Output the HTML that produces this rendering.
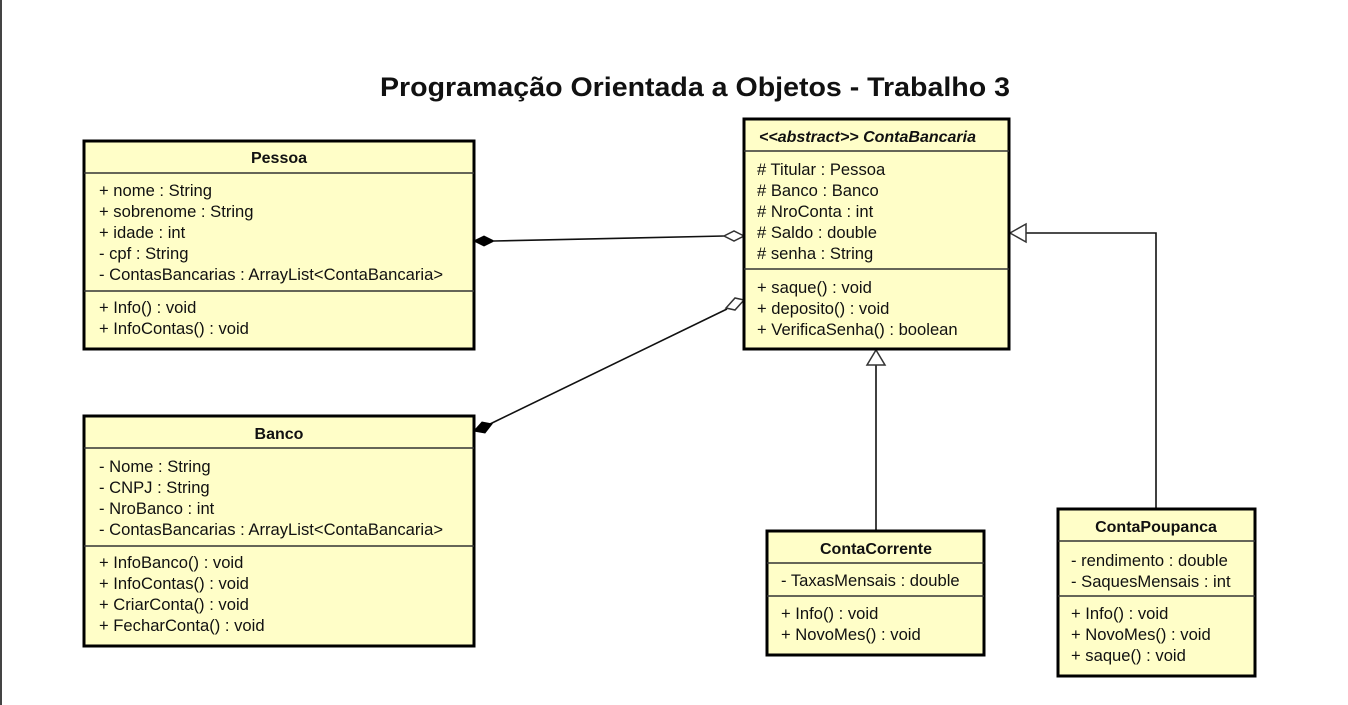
<!DOCTYPE html>
<html><head><meta charset="utf-8"><style>
html,body{margin:0;padding:0;background:#fff;width:1348px;height:705px;overflow:hidden}
svg{display:block}
text{font-family:"Liberation Sans",Arial,sans-serif;font-size:16.6px;fill:#111}
.b{font-weight:bold;font-size:16px}
.t{font-weight:bold;font-size:27px}
.box{fill:#fffec8;stroke:#000;stroke-width:3}
.sep{stroke:#333;stroke-width:1.5}
.ln{stroke:#111;stroke-width:1.6;fill:none}
</style></head><body>
<svg width="1348" height="705" viewBox="0 0 1348 705">
<line x1="1" y1="0" x2="1" y2="705" stroke="#444" stroke-width="2"/>
<text class="t" x="380" y="96" textLength="630" lengthAdjust="spacingAndGlyphs">Programação Orientada a Objetos - Trabalho 3</text>

<!-- connectors -->
<line class="ln" x1="494" y1="241" x2="724" y2="236"/>
<polygon points="474,241 484,236 494,241 484,246" fill="#000" stroke="#000"/>
<polygon points="744,236 734,231 724,236 734,241" fill="#fff" stroke="#333" stroke-width="1.5"/>
<line class="ln" x1="490" y1="424" x2="727" y2="309"/>
<polygon points="474,431 482,422 492,424 485,433" fill="#000" stroke="#000"/>
<polygon points="744,300 735,298 726,308 735,310" fill="#fff" stroke="#333" stroke-width="1.5"/>
<line class="ln" x1="876" y1="530" x2="876" y2="365"/>
<polygon points="876,350 867,365 885,365" fill="#fff" stroke="#333" stroke-width="1.5"/>
<polyline class="ln" points="1156,508 1156,233 1026,233"/>
<polygon points="1010,233 1026,224 1026,242" fill="#fff" stroke="#333" stroke-width="1.5"/>

<!-- Pessoa -->
<rect class="box" x="84" y="141" width="390" height="208"/>
<line class="sep" x1="84" y1="173" x2="474" y2="173"/>
<line class="sep" x1="84" y1="291" x2="474" y2="291"/>
<text class="b" x="279" y="163" text-anchor="middle">Pessoa</text>
<text x="99" y="196">+ nome : String</text>
<text x="99" y="217">+ sobrenome : String</text>
<text x="99" y="238">+ idade : int</text>
<text x="99" y="259">- cpf : String</text>
<text x="99" y="280">- ContasBancarias : ArrayList&lt;ContaBancaria&gt;</text>
<text x="99" y="313">+ Info() : void</text>
<text x="99" y="334">+ InfoContas() : void</text>

<!-- Banco -->
<rect class="box" x="84" y="416" width="390" height="230"/>
<line class="sep" x1="84" y1="448" x2="474" y2="448"/>
<line class="sep" x1="84" y1="546" x2="474" y2="546"/>
<text class="b" x="279" y="439" text-anchor="middle">Banco</text>
<text x="99" y="472">- Nome : String</text>
<text x="99" y="493">- CNPJ : String</text>
<text x="99" y="514">- NroBanco : int</text>
<text x="99" y="535">- ContasBancarias : ArrayList&lt;ContaBancaria&gt;</text>
<text x="99" y="568">+ InfoBanco() : void</text>
<text x="99" y="589">+ InfoContas() : void</text>
<text x="99" y="610">+ CriarConta() : void</text>
<text x="99" y="631">+ FecharConta() : void</text>

<!-- ContaBancaria -->
<rect class="box" x="744" y="119" width="265" height="230"/>
<line class="sep" x1="744" y1="151" x2="1009" y2="151"/>
<line class="sep" x1="744" y1="269" x2="1009" y2="269"/>
<text class="b" x="759" y="142" font-style="italic">&lt;&lt;abstract&gt;&gt; ContaBancaria</text>
<text x="757" y="175"># Titular : Pessoa</text>
<text x="757" y="196"># Banco : Banco</text>
<text x="757" y="217"># NroConta : int</text>
<text x="757" y="238"># Saldo : double</text>
<text x="757" y="259"># senha : String</text>
<text x="757" y="293">+ saque() : void</text>
<text x="757" y="314">+ deposito() : void</text>
<text x="757" y="335">+ VerificaSenha() : boolean</text>

<!-- ContaCorrente -->
<rect class="box" x="767" y="531" width="217" height="124"/>
<line class="sep" x1="767" y1="563" x2="984" y2="563"/>
<line class="sep" x1="767" y1="596" x2="984" y2="596"/>
<text class="b" x="876" y="554" text-anchor="middle">ContaCorrente</text>
<text x="781" y="586">- TaxasMensais : double</text>
<text x="781" y="619">+ Info() : void</text>
<text x="781" y="640">+ NovoMes() : void</text>

<!-- ContaPoupanca -->
<rect class="box" x="1058" y="509" width="197" height="167"/>
<line class="sep" x1="1058" y1="541" x2="1255" y2="541"/>
<line class="sep" x1="1058" y1="596" x2="1255" y2="596"/>
<text class="b" x="1156" y="532" text-anchor="middle">ContaPoupanca</text>
<text x="1071" y="566">- rendimento : double</text>
<text x="1071" y="587">- SaquesMensais : int</text>
<text x="1071" y="619">+ Info() : void</text>
<text x="1071" y="640">+ NovoMes() : void</text>
<text x="1071" y="661">+ saque() : void</text>
</svg>
</body></html>
